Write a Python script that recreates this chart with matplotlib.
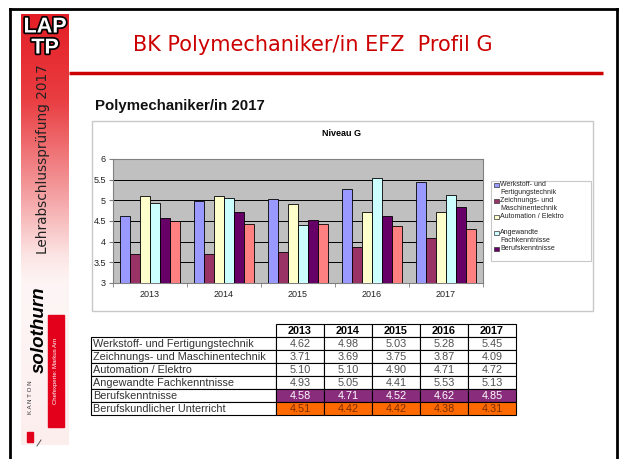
import numpy as np
import matplotlib
matplotlib.use("Agg")
import matplotlib.pyplot as plt
from matplotlib.patches import Rectangle
import matplotlib.patheffects as pe

# ---------------- data ----------------
years = ['2013', '2014', '2015', '2016', '2017']
series_names = ['Werkstoff- und Fertigungstechnik',
                'Zeichnungs- und Maschinentechnik',
                'Automation / Elektro',
                'Angewandte Fachkenntnisse',
                'Berufskenntnisse',
                'Berufskundlicher Unterricht']
werkstoff = [4.62, 4.98, 5.03, 5.28, 5.45]
zeichnung = [3.71, 3.69, 3.75, 3.87, 4.09]
automation = [5.10, 5.10, 4.90, 4.71, 4.72]
angewandte = [4.93, 5.05, 4.41, 5.53, 5.13]
berufskenntnisse = [4.58, 4.71, 4.52, 4.62, 4.85]
berufskundlicher = [4.51, 4.42, 4.42, 4.38, 4.31]
series_values = [werkstoff, zeichnung, automation, angewandte,
                 berufskenntnisse, berufskundlicher]
legend_labels = [['Werkstoff- und', 'Fertigungstechnik'],
                 ['Zeichnungs- und', 'Maschinentechnik'],
                 ['Automation / Elektro', ''],
                 ['Angewandte', 'Fachkenntnisse'],
                 ['Berufskenntnisse']]
y_ticks = [3, 3.5, 4, 4.5, 5, 5.5, 6]
y_tick_labels = ['3', '3.5', '4', '4.5', '5', '5.5', '6']

# ---------------- styles ----------------
bar_colors = ['#9999FF', '#993366', '#FFFFCC', '#CCFFFF', '#660066', '#FF8080']
W, H = 619, 459
SANS = ['Liberation Sans', 'DejaVu Sans']

fig = plt.figure(figsize=(W / 100, H / 100), dpi=100)
fig.patch.set_facecolor('white')

bg = fig.add_axes([0, 0, 1, 1], zorder=0)
bg.axis('off')

# sidebar gradient
stops_y = [14, 100, 185, 255, 285, 445]
stops_c = [(228, 30, 38), (233, 62, 66), (243, 150, 152), (252, 228, 228),
           (254, 246, 246), (253, 238, 238)]
ys = np.linspace(14, 445, 432)
grad = np.zeros((len(ys), 1, 3))
for k in range(3):
    grad[:, 0, k] = np.interp(ys, stops_y, [c[k] for c in stops_c]) / 255.0
bg.imshow(grad, extent=[21, 69, 445, 14], aspect='auto', zorder=0,
          interpolation='bilinear')
bg.set_xlim(0, W)
bg.set_ylim(H, 0)

# outer frame
bg.plot([9.5, 9.5], [9, H], color='black', lw=2, zorder=1)
bg.plot([9.5, 617], [9, 9], color='black', lw=2, zorder=1)
bg.plot([617, 617], [9, H], color='black', lw=2, zorder=1)

# LAP TP
for txt, yy in [('LAP', 27), ('TP', 48)]:
    bg.text(45, yy, txt, color='white', fontsize=15.5, fontweight='bold',
            family=SANS, ha='center', va='center', zorder=3,
            path_effects=[pe.withStroke(linewidth=2.5, foreground='black')])
bg.text(43, 159, 'Lehrabschlussprüfung 2017', rotation=90, fontsize=9.8,
        color='#222222', family='DejaVu Sans', ha='center', va='center', zorder=3)
bg.text(39, 330, 'solothurn', rotation=90, fontsize=13.5, fontweight='bold',
        style='italic', color='black', family=SANS, ha='center', va='center', zorder=3)
bg.text(30, 397, 'K A N T O N', rotation=90, fontsize=4.5, color='#333333',
        family=SANS, ha='center', va='center', zorder=3)
bg.add_patch(Rectangle((27, 432), 6, 10, color='#E3001B', zorder=3))
bg.plot([37, 41], [446, 440], color='#555555', lw=0.7, zorder=3)
bg.add_patch(Rectangle((48, 315), 16, 112, color='#E3001B', zorder=3))
bg.text(56, 371, 'Chefexperte: Markus Arn', rotation=90, fontsize=4.3,
        color='white', family=SANS, ha='center', va='center', zorder=4)

# title and red rule
bg.text(313, 45, 'BK Polymechaniker/in EFZ  Profil G', fontsize=15,
        color='#CC0000', family='DejaVu Sans', ha='center', va='center')
bg.plot([69, 603], [73, 73], color='#CC0000', lw=2.5, solid_capstyle='butt')

bg.text(95, 106, 'Polymechaniker/in 2017', fontsize=10.8, fontweight='bold',
        family=SANS, color='#111111', ha='left', va='center')

# chart box
bg.add_patch(Rectangle((92, 121), 501, 190, fc='white', ec='#C8C8C8', lw=1))
bg.text(342, 133, 'Niveau G', fontsize=6.5, fontweight='bold', family=SANS,
        ha='center', va='center')

# bar chart
ax = fig.add_axes([113 / W, 1 - 283 / H, 370 / W, 124 / H], zorder=2)
ax.set_facecolor('#C0C0C0')
x = np.arange(len(years))
n = len(series_values)
bw = 0.8 / n
for i, (vals, col) in enumerate(zip(series_values, bar_colors)):
    ax.bar(x - 0.4 + bw * (i + 0.5), np.array(vals) - 3, bw, bottom=3,
           color=col, edgecolor='black', linewidth=0.6, zorder=3)
ax.set_xlim(-0.5, len(years) - 0.5)
ax.set_ylim(3, 6)
ax.set_yticks(y_ticks)
ax.set_yticklabels(y_tick_labels)
ax.yaxis.grid(True, color='black', lw=0.7, zorder=0)
ax.set_axisbelow(True)
ax.set_xticks(x)
ax.set_xticklabels(years)
ax.set_xticks(np.arange(len(years) + 1) - 0.5, minor=True)
ax.tick_params(axis='x', which='major', length=0, labelsize=6.5, pad=5)
ax.tick_params(axis='x', which='minor', length=3, color='#808080')
ax.tick_params(axis='y', length=3, color='#808080', labelsize=6.5, pad=2)
for lab in ax.get_xticklabels() + ax.get_yticklabels():
    lab.set_family(SANS)
    lab.set_color('#222222')
for s in ax.spines.values():
    s.set_color('#808080')
    s.set_linewidth(0.8)

# legend
bg.add_patch(Rectangle((491, 181), 100, 80, fc='white', ec='#C8C8C8', lw=0.8))
line_y = 185
for lines, col in zip(legend_labels, bar_colors):
    bg.add_patch(Rectangle((494, line_y - 2.2), 4.5, 4.5, fc=col,
                           ec='#333333', lw=0.5, zorder=3))
    for j, t in enumerate(lines):
        bg.text(500, line_y + 8 * j, t, fontsize=5, family=SANS,
                color='#222222', ha='left', va='center')
    line_y += 16 if len(lines) > 1 else 8

# table
col_x = [91, 276, 324, 372, 420, 468, 516]
top = 324
rh = 13
for j, yr in enumerate(years):
    bg.add_patch(Rectangle((col_x[j + 1], top), col_x[j + 2] - col_x[j + 1], rh,
                           fc='white', ec='black', lw=0.8))
    bg.text((col_x[j + 1] + col_x[j + 2]) / 2, top + rh / 2 + 0.5, yr,
            fontsize=7.8, fontweight='bold', family=SANS, ha='center', va='center')
row_fc = ['white', 'white', 'white', 'white', '#8A2C7C', '#FF6A00']
row_tc = ['#505050', '#505050', '#505050', '#505050', 'white', '#7A2E00']
for r, (name, vals) in enumerate(zip(series_names, series_values)):
    y0 = top + rh * (r + 1)
    bg.add_patch(Rectangle((col_x[0], y0), col_x[1] - col_x[0], rh,
                           fc='white', ec='black', lw=0.8))
    bg.text(col_x[0] + 2, y0 + rh / 2 + 0.5, name, fontsize=7.8, family=SANS,
            color='#333333', ha='left', va='center')
    for j, v in enumerate(vals):
        bg.add_patch(Rectangle((col_x[j + 1], y0), col_x[j + 2] - col_x[j + 1], rh,
                               fc=row_fc[r], ec='black', lw=0.8))
        bg.text((col_x[j + 1] + col_x[j + 2]) / 2, y0 + rh / 2 + 0.5, f'{v:.2f}',
                fontsize=7.8, family=SANS, color=row_tc[r], ha='center', va='center')

fig.savefig('out.png', dpi=100)
